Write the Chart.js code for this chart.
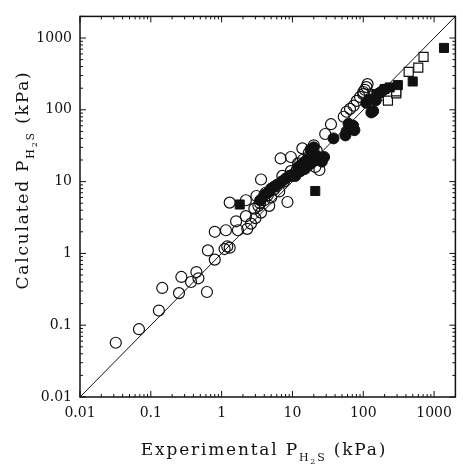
<!DOCTYPE html>
<html lang="en">
<head>
    <meta charset="UTF-8">
    <title>Calculated vs Experimental H2S pressure</title>
    <script src="https://cdn.jsdelivr.net/npm/chart.js"></script>
    <style>
        html, body { margin: 0; padding: 0; background: #fff; }
        canvas { display: block; }
    </style>
</head>
<body>
    <canvas id="parityChart" width="463" height="466"></canvas>
    <script>
        // tick labels (decades) for both log axes
        const decadeTicks = [0.01, 0.1, 1, 10, 100, 1000];
        const decadeLabels = ['0.01', '0.1', '1', '10', '100', '1000'];
        const axisMin = 0.01;
        const axisMax = 2000;

        // parity line
        const parityX = [0.01, 2000];
        const parityY = [0.01, 2000];

        // open circles
        const openCircleX = [0.032, 0.068, 0.13, 0.145, 0.25, 0.27, 0.37, 0.44, 0.47, 0.62, 0.64, 0.8, 0.8,
            1.1, 1.15, 1.2, 1.3, 1.3, 1.6, 1.7, 2.2, 2.2, 2.3, 2.6, 2.9, 3.1, 3.3, 3.6, 3.6, 4.0, 4.2, 4.7,
            5.0, 5.5, 6.0, 6.5, 6.8, 7.2, 7.6, 8.5, 9.5, 9.5, 11.5, 13.8, 16, 18, 20, 21, 22, 24,
            29, 35, 53, 58, 65, 73, 81, 90, 100, 111, 115, 105, 100, 3.0, 3.5, 4.5, 12, 14, 17, 19, 10];
        const openCircleY = [0.057, 0.088, 0.16, 0.33, 0.28, 0.47, 0.40, 0.55, 0.45, 0.29, 1.1, 0.82, 2.0,
            1.15, 2.1, 1.25, 1.2, 5.1, 2.8, 2.1, 3.3, 5.5, 2.2, 2.6, 4.2, 6.3, 4.6, 3.7, 10.7, 5.5, 7.0, 4.6,
            6.0, 7.8, 8.6, 7.3, 21, 12, 10, 5.2, 22, 14, 14.5, 29, 20, 18, 32, 16, 27, 14.5,
            46, 63, 80, 94, 103, 114, 133, 151, 177, 207, 228, 190, 165, 3.1, 5.0, 6.5, 18, 20, 25, 22, 12];

        // filled circles
        const filledCircleX = [3.5, 4.0, 4.5, 5.0, 5.5, 6.0, 7.0, 8.0, 9.0, 10, 11, 12, 13, 14, 15, 16, 17, 18,
            19, 20, 21, 22, 24, 26, 28, 18, 20, 38, 56, 58, 62, 68, 72, 75, 110, 120, 130, 138, 150, 160, 175, 195];
        const filledCircleY = [5.5, 6.5, 7.0, 8.0, 8.5, 9.0, 10, 11, 12, 12.5, 12, 16, 14, 18, 15, 20, 17, 22,
            19, 24, 20, 23, 20, 19, 22, 28, 30, 40, 44, 50, 64, 55, 60, 52, 125, 140, 92, 96, 135, 165, 175, 190];

        // filled squares
        const filledSquareX = [1.8, 21, 153, 200, 236, 308, 499, 1380];
        const filledSquareY = [4.8, 7.4, 166, 195, 205, 221, 248, 728];

        // open squares
        const openSquareX = [171, 223, 292, 292, 438, 598, 710];
        const openSquareY = [157, 134, 170, 181, 337, 386, 546];

        const toPoints = (xs, ys) => xs.map((v, i) => ({ x: v, y: ys[i] }));

        const ink = '#111';
        const serif = "'DejaVu Serif', 'Liberation Serif', serif";

        // text with H2S subscript, drawn left to right from (0,0) baseline
        function drawParts(ctx, parts, cx, baseY) {
            let total = 0;
            parts.forEach(p => {
                ctx.font = p.size + 'px ' + serif;
                p.w = ctx.measureText(p.t).width;
                total += p.w;
            });
            let x = cx - total / 2;
            parts.forEach(p => {
                ctx.font = p.size + 'px ' + serif;
                ctx.fillText(p.t, x, baseY + p.dy);
                x += p.w;
            });
        }

        function titleParts(lead) {
            return [
                { t: lead + ' P', size: 17, dy: 0 },
                { t: 'H', size: 11, dy: 6 },
                { t: '2', size: 8, dy: 9 },
                { t: 'S', size: 11, dy: 6 },
                { t: ' (kPa)', size: 17, dy: 0 }
            ];
        }

        const framePlugin = {
            id: 'frame',
            afterDraw(chart) {
                const { ctx, chartArea: a, scales: { x, y } } = chart;
                ctx.save();
                ctx.strokeStyle = ink;
                ctx.fillStyle = ink;

                // frame
                ctx.lineWidth = 1.5;
                ctx.strokeRect(a.left, a.top, a.right - a.left, a.bottom - a.top);

                // inward ticks on all four sides
                ctx.lineWidth = 1;
                ctx.beginPath();
                decadeTicks.forEach(d => {
                    for (let k = 1; k <= 9; k++) {
                        const v = d * k;
                        if (v > axisMax) break;
                        const len = k === 1 ? 6 : 3;
                        const px = x.getPixelForValue(v);
                        const py = y.getPixelForValue(v);
                        ctx.moveTo(px, a.bottom); ctx.lineTo(px, a.bottom - len);
                        ctx.moveTo(px, a.top); ctx.lineTo(px, a.top + len);
                        ctx.moveTo(a.left, py); ctx.lineTo(a.left + len, py);
                        ctx.moveTo(a.right, py); ctx.lineTo(a.right - len, py);
                    }
                });
                ctx.stroke();

                // axis titles
                ctx.textAlign = 'left';
                ctx.textBaseline = 'alphabetic';
                ctx.letterSpacing = '1.8px';
                drawParts(ctx, titleParts('Experimental'), 264, 455);

                ctx.translate(28, 180);
                ctx.rotate(-Math.PI / 2);
                drawParts(ctx, titleParts('Calculated'), 0, 0);
                ctx.restore();
            }
        };

        const logAxis = (pos) => ({
            type: 'logarithmic',
            position: pos,
            min: axisMin,
            max: axisMax,
            grid: { display: false, drawTicks: false },
            border: { display: false },
            afterBuildTicks: (scale) => {
                scale.ticks = decadeTicks.map(v => ({ value: v }));
            },
            ticks: {
                autoSkip: false,
                maxRotation: 0,
                padding: 8,
                color: ink,
                font: { family: serif, size: 14 },
                callback: (v) => {
                    const i = decadeTicks.indexOf(v);
                    return i >= 0 ? decadeLabels[i] : '';
                }
            }
        });

        const xAxis = logAxis('bottom');
        xAxis.afterFit = (scale) => { scale.height = 69; };
        const yAxis = logAxis('left');
        yAxis.afterFit = (scale) => { scale.width = 80; };

        new Chart(document.getElementById('parityChart').getContext('2d'), {
            type: 'scatter',
            data: {
                datasets: [
                    {
                        label: 'open circles',
                        data: toPoints(openCircleX, openCircleY),
                        pointStyle: 'circle',
                        pointRadius: 5.5,
                        backgroundColor: 'rgba(255,255,255,0)',
                        borderColor: ink,
                        borderWidth: 1.2
                    },
                    {
                        label: 'filled circles',
                        data: toPoints(filledCircleX, filledCircleY),
                        pointStyle: 'circle',
                        pointRadius: 5.5,
                        backgroundColor: ink,
                        borderColor: ink,
                        borderWidth: 1
                    },
                    {
                        label: 'filled squares',
                        data: toPoints(filledSquareX, filledSquareY),
                        pointStyle: 'rect',
                        pointRadius: 6.4,
                        backgroundColor: ink,
                        borderColor: ink,
                        borderWidth: 1
                    },
                    {
                        label: 'open squares',
                        data: toPoints(openSquareX, openSquareY),
                        pointStyle: 'rect',
                        pointRadius: 6.4,
                        backgroundColor: '#fff',
                        borderColor: ink,
                        borderWidth: 1.2
                    },
                    {
                        label: 'y = x',
                        data: toPoints(parityX, parityY),
                        showLine: true,
                        pointRadius: 0,
                        borderColor: ink,
                        borderWidth: 1
                    }
                ]
            },
            options: {
                responsive: false,
                animation: false,
                devicePixelRatio: 1,
                layout: { padding: { left: 0, right: 2, top: 12, bottom: 0 } },
                plugins: {
                    legend: { display: false },
                    tooltip: { enabled: false }
                },
                scales: { x: xAxis, y: yAxis }
            },
            plugins: [framePlugin]
        });
    </script>
</body>
</html>
